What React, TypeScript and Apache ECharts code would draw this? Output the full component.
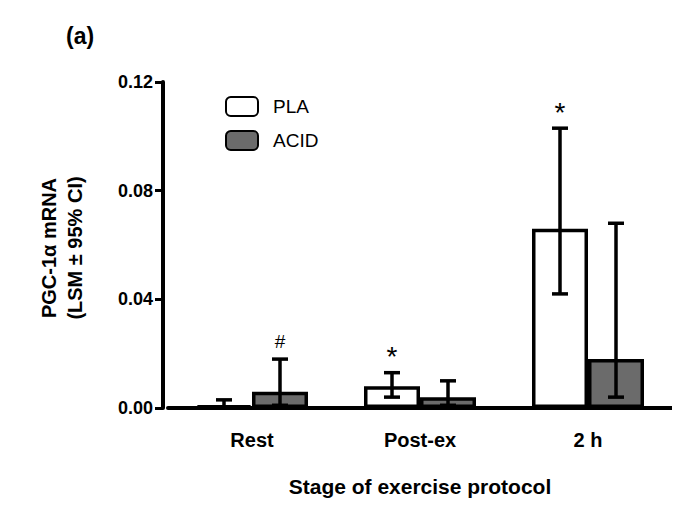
import { useEffect, useRef } from "react";
import * as echarts from "echarts";

const categories = ["Rest", "Post-ex", "2 h"];
const plaMean = [0.001, 0.008, 0.066];
const plaLow = [0.0, 0.004, 0.042];
const plaHigh = [0.003, 0.013, 0.103];
const acidMean = [0.006, 0.004, 0.018];
const acidLow = [0.001, 0.001, 0.004];
const acidHigh = [0.018, 0.01, 0.068];
const plaMarks = ["", "*", "*"];
const acidMarks = ["#", "", ""];

const BAR_W = 56;

function errorSeries(name: string, low: number[], high: number[], marks: string[], side: number) {
  return {
    name: name + "-err",
    type: "custom",
    silent: true,
    z: 5,
    data: categories.map((_, i) => [i, low[i], high[i], marks[i]]),
    renderItem: (params: any, api: any) => {
      const i = api.value(0);
      const lo = api.coord([i, api.value(1)]);
      const hi = api.coord([i, api.value(2)]);
      const x = lo[0] + (side * BAR_W) / 2;
      const cap = 8;
      const st = { stroke: "#000", lineWidth: 3.5 };
      const mark = marks[params.dataIndex];
      const children: any[] = [
        { type: "line", shape: { x1: x, y1: lo[1], x2: x, y2: hi[1] }, style: st },
        { type: "line", shape: { x1: x - cap, y1: lo[1], x2: x + cap, y2: lo[1] }, style: st },
        { type: "line", shape: { x1: x - cap, y1: hi[1], x2: x + cap, y2: hi[1] }, style: st },
      ];
      if (mark) {
        children.push({
          type: "text",
          style: {
            text: mark,
            x,
            y: mark === "*" ? hi[1] - 2 : hi[1] - 8,
            align: "center",
            verticalAlign: "bottom",
            fontSize: mark === "*" ? 28 : 19,
            fontFamily: "Liberation Sans, Arial",
            fill: "#000",
          },
        });
      }
      return { type: "group", children };
    },
  };
}

export default function App() {
  const ref = useRef<HTMLDivElement | null>(null);

  useEffect(() => {
    if (!ref.current) return;
    const chart = echarts.init(ref.current, null, { renderer: "svg" });
    chart.setOption({
      animation: false,
      backgroundColor: "#fff",
      textStyle: { fontFamily: "Liberation Sans, Arial" },
      grid: { left: 160, right: 0, top: 74, bottom: 87 },
      legend: {
        left: 212,
        top: 83,
        orient: "vertical",
        itemWidth: 32,
        itemHeight: 19,
        itemGap: 13,
        data: ["PLA", "ACID"],
        textStyle: { fontSize: 19, color: "#000", padding: [0, 0, 0, 10] },
      },
      xAxis: {
        type: "category",
        data: categories,
        axisLine: { lineStyle: { color: "#000", width: 4 } },
        axisTick: { show: false },
        axisLabel: { color: "#000", fontSize: 20, fontWeight: "bold", margin: 22 },
        name: "Stage of exercise protocol",
        nameLocation: "middle",
        nameGap: 68,
        nameTextStyle: { color: "#000", fontSize: 21, fontWeight: "bold" },
      },
      yAxis: {
        type: "value",
        min: 0,
        max: 0.12,
        interval: 0.04,
        offset: 5,
        splitLine: { show: false },
        axisLine: { show: true, lineStyle: { color: "#000", width: 4 } },
        axisTick: { show: true, length: 8, lineStyle: { width: 3, color: "#000" } },
        axisLabel: {
          color: "#000",
          fontSize: 18,
          fontWeight: "bold",
          margin: 10,
          formatter: (v: number) => v.toFixed(2),
        },
      },
      graphic: [
        {
          type: "text",
          left: 58,
          top: 16,
          style: { text: "(a)", fontSize: 23, fontWeight: "bold", fill: "#000", fontFamily: "Liberation Sans, Arial" },
        },
        {
          type: "text",
          x: 54,
          y: 240,
          rotation: Math.PI / 2,
          style: {
            text: "PGC-1α mRNA\n(LSM ± 95% CI)",
            align: "center",
            verticalAlign: "middle",
            fontSize: 20,
            lineHeight: 26,
            fontWeight: "bold",
            fill: "#000",
            fontFamily: "Liberation Sans, Arial",
          },
        },
      ],
      series: [
        {
          name: "PLA",
          type: "bar",
          data: plaMean,
          barWidth: BAR_W,
          barGap: "0%",
          itemStyle: { color: "#fff", borderColor: "#000", borderWidth: 3.5 },
        },
        {
          name: "ACID",
          type: "bar",
          data: acidMean,
          barWidth: BAR_W,
          itemStyle: { color: "#6b6b6b", borderColor: "#000", borderWidth: 3.5 },
        },
        errorSeries("PLA", plaLow, plaHigh, plaMarks, -1),
        errorSeries("ACID", acidLow, acidHigh, acidMarks, 1),
      ],
    });
    return () => chart.dispose();
  }, []);

  return <div ref={ref} style={{ width: 664, height: 494 }} />;
}
